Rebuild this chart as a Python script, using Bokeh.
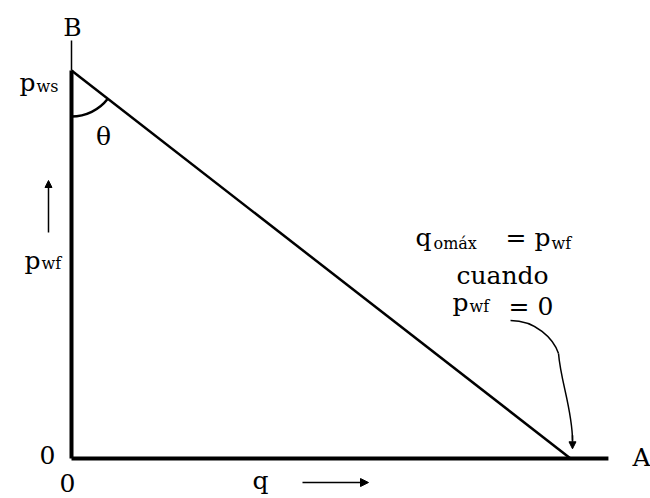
import math
from bokeh.plotting import figure
from bokeh.models import Range1d, Arrow, NormalHead
from bokeh.core.properties import value
from bokeh.embed import file_html
from bokeh.resources import INLINE

# Straight-line inflow performance: pwf falls from pws (q = 0) to 0 at q_omax
pws = 10.0
q_omax = 10.0
q_axis_end = 10.76
p_axis_end = 10.77

line_q = [0.0, q_omax]
line_p = [pws, 0.0]

# screen pixels per data unit on each axis
PX_Q = 49.9
PX_P = 38.8

FONT = value("DejaVu Serif")
BIG = 25
SMALL = 16

p = figure(width=650, height=498,
           x_range=Range1d(-71 / PX_Q, 579 / PX_Q),
           y_range=Range1d(-40 / PX_P, 458 / PX_P),
           output_backend="svg", toolbar_location=None, min_border=0,
           x_axis_location=None, y_axis_location=None)
p.grid.visible = False
p.outline_line_color = None
p.background_fill_color = "white"
p.border_fill_color = "white"

# axes drawn as lines
p.line([0, q_axis_end], [0, 0], line_color="black", line_width=4)
p.line([0, 0], [0, pws], line_color="black", line_width=4)
p.line([0, 0], [pws, p_axis_end], line_color="black", line_width=1.5)

# IPR line
p.line(line_q, line_p, line_color="black", line_width=2.5)

# angle theta between the p axis and the IPR line
theta_end = -math.atan((pws * PX_P) / (q_omax * PX_Q))
p.arc(x=[0], y=[pws], radius=46, radius_units="screen",
      start_angle=-math.pi / 2, end_angle=theta_end, direction="anticlock",
      line_color="black", line_width=2.5)


def label(x, y, s, size=BIG, align="left", baseline="alphabetic"):
    p.text(x=[x], y=[y], text=[s], text_font=FONT, text_font_size=f"{size}px",
           text_align=align, text_baseline=baseline, text_color="black")


label(0.02, 11.11, "B", align="center", baseline="middle")
label(-0.721, 9.69, "p", align="right")
label(-0.701, 9.59, "ws", SMALL)
label(0.641, 8.30, "θ", align="center", baseline="middle")

label(-0.621, 5.10, "p", align="right")
label(-0.601, 5.03, "wf", SMALL)
p.add_layout(Arrow(end=NormalHead(size=7, fill_color="black", line_color="black"),
                   x_start=-0.461, y_start=5.825, x_end=-0.461, y_end=7.165,
                   line_color="black", line_width=1.5))

label(-0.481, 0.10, "0", align="center", baseline="middle")
label(-0.080, -0.62, "0", align="center", baseline="middle")
label(3.788, -0.567, "q", align="center")
p.add_layout(Arrow(end=NormalHead(size=8, fill_color="black", line_color="black"),
                   x_start=4.629, y_start=-0.619, x_end=5.952, y_end=-0.619,
                   line_color="black", line_width=1.5))
label(11.242, 0.03, "A", baseline="middle")

# note on the maximum rate
label(7.214, 5.696, "q", align="right")
label(7.255, 5.541, "omáx", SMALL)
label(9.599, 5.696, "= p", align="right")
label(9.619, 5.541, "wf", SMALL)
label(8.637, 4.716, "cuando", align="center")
label(7.956, 4.021, "p", align="right")
label(7.976, 3.918, "wf", SMALL)
label(8.758, 3.918, "= 0")

# curved leader from the note down to q_omax
lead_end = q_omax + 0.04
p.bezier(x0=[8.798, 9.760], y0=[3.557, 2.706],
         x1=[9.760, lead_end], y1=[2.706, 0.464],
         cx0=[9.299, 9.800], cy0=[3.557, 2.010],
         cx1=[9.659, lead_end], cy1=[3.093, 1.237],
         line_color="black", line_width=1.5)
p.add_layout(Arrow(end=NormalHead(size=7, fill_color="black", line_color="black"),
                   x_start=lead_end, y_start=0.6, x_end=lead_end, y_end=0.25,
                   line_color="black", line_width=1.5))

open("out.html", "w").write(file_html(p, INLINE))
